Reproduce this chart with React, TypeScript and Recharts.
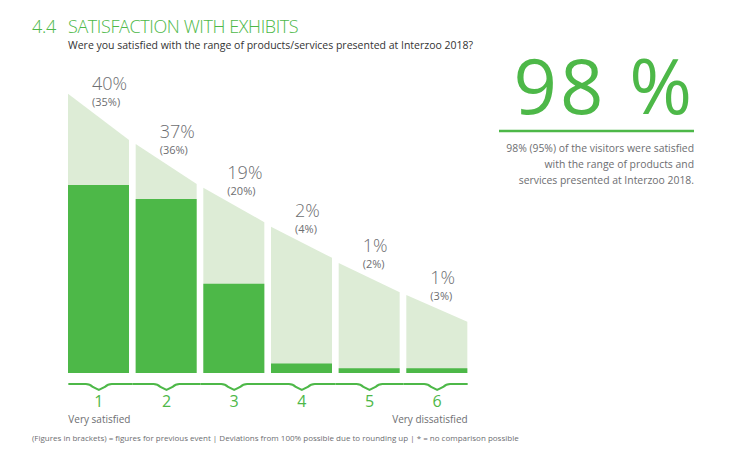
import { Bar, BarChart, XAxis, YAxis } from "recharts";

const categories = ["1", "2", "3", "4", "5", "6"];
const current = [40, 37, 19, 2, 1, 1];
const previous = [35, 36, 20, 4, 2, 3];
// decorative wedge behind the bars, height at left / right edge of each column
const wedgeLeft = [59.4, 48.7, 39.4, 31.1, 23.4, 16.6];
const wedgeRight = [49.6, 40.2, 32.1, 24.5, 17.2, 10.9];
const endLabels = ["Very satisfied", "Very dissatisfied"];

const data = categories.map((c, i) => ({
  cat: c,
  value: current[i],
  prev: previous[i],
  bgLeft: wedgeLeft[i],
  bgRight: wedgeRight[i],
}));

const GREEN = "#4db848";
const LIGHT = "#ddecd6";
const GREY = "#6d6e71";
const FONT = "'Open Sans', 'Noto Sans', sans-serif";
const BAR = 61;

function Wedge(props: any) {
  const { x, y, width, height, payload } = props;
  const bottom = y + height;
  const rightH = (height * payload.bgRight) / payload.bgLeft;
  const lx = x + 24;
  const slopeTop = y + ((bottom - rightH - y) * (lx - x)) / width;
  const base = slopeTop - 22;
  return (
    <g>
      <polygon
        points={`${x},${bottom} ${x},${y} ${x + width},${bottom - rightH} ${x + width},${bottom}`}
        fill={LIGHT}
      />
      <text x={lx} y={base} fontSize={18} fill={GREY} fontFamily={FONT} fontWeight={300}>
        {payload.value}%
      </text>
      <text x={lx} y={base + 16} fontSize={11} fill={GREY} fontFamily={FONT}>
        ({payload.prev}%)
      </text>
    </g>
  );
}

function Tick(props: any) {
  const { x, y, payload, index, width, visibleTicksCount } = props;
  const n = visibleTicksCount || categories.length;
  const band = width ? width / n : 67.7;
  const cx = x;
  const ly = y + 11;
  const x0 = index === 0 ? cx - BAR / 2 : cx - band / 2;
  const x1 = index === n - 1 ? cx + BAR / 2 : cx + band / 2;
  const d = `M${x0},${ly} L${cx - 13},${ly} Q${cx - 9},${ly} ${cx - 6},${ly + 3} L${cx},${ly + 6} L${cx + 6},${ly + 3} Q${cx + 9},${ly} ${cx + 13},${ly} L${x1},${ly}`;
  return (
    <g>
      <path d={d} stroke={GREEN} strokeWidth={2} fill="none" />
      <text x={cx} y={y + 34} textAnchor="middle" fontSize={16} fill={GREEN} fontFamily={FONT}>
        {payload.value}
      </text>
      {index === 0 && (
        <text x={cx - BAR / 2} y={y + 50} fontSize={10} fill={GREY} fontFamily={FONT}>
          {endLabels[0]}
        </text>
      )}
      {index === n - 1 && (
        <text x={cx + BAR / 2} y={y + 50} textAnchor="end" fontSize={10} fill={GREY} fontFamily={FONT}>
          {endLabels[1]}
        </text>
      )}
    </g>
  );
}

export default function App() {
  return (
    <div style={{ position: "absolute", left: 0, top: 0, width: 740, height: 454, background: "#fff" }}>
      <BarChart
        width={740}
        height={454}
        data={data}
        margin={{ top: 91, right: 269, bottom: 0, left: 65 }}
      >
        <XAxis xAxisId="bg" dataKey="cat" hide />
        <XAxis
          dataKey="cat"
          height={81}
          axisLine={false}
          tickLine={false}
          tickSize={0}
          tickMargin={0}
          interval={0}
          tick={<Tick />}
        />
        <YAxis hide domain={[0, 60]} />
        <Bar xAxisId="bg" dataKey="bgLeft" barSize={BAR} shape={<Wedge />} isAnimationActive={false} />
        <Bar dataKey="value" barSize={BAR} fill={GREEN} isAnimationActive={false} />
      </BarChart>
      <svg
        width={740}
        height={454}
        style={{ position: "absolute", left: 0, top: 0, pointerEvents: "none" }}
      >
        <text x={32} y={33} fontSize={18} fill={GREEN} fontFamily={FONT} fontWeight={300} letterSpacing={-0.3}>
          4.4
        </text>
        <text x={68} y={33} fontSize={18} fill={GREEN} fontFamily={FONT} fontWeight={300} letterSpacing={-0.4}>
          SATISFACTION WITH EXHIBITS
        </text>
        <text x={68} y={49} fontSize={10.5} fill="#333" fontFamily={FONT}>
          Were you satisfied with the range of products/services presented at Interzoo 2018?
        </text>
        <text x={695} y={114} textAnchor="end" fontSize={76} fill={GREEN} fontFamily={FONT} letterSpacing={3}>
          98 %
        </text>
        <line x1={499} x2={694} y1={131} y2={131} stroke={GREEN} strokeWidth={2.5} />
        <g fontSize={10.4} fill={GREY} fontFamily={FONT} textAnchor="end">
          <text x={694} y={152}>98% (95%) of the visitors were satisfied</text>
          <text x={694} y={168}>with the range of products and</text>
          <text x={694} y={184}>services presented at Interzoo 2018.</text>
        </g>
        <text x={32} y={441} fontSize={8} fill={GREY} fontFamily={FONT}>
          (Figures in brackets) = figures for previous event | Deviations from 100% possible due to rounding up | * = no comparison possible
        </text>
      </svg>
    </div>
  );
}
